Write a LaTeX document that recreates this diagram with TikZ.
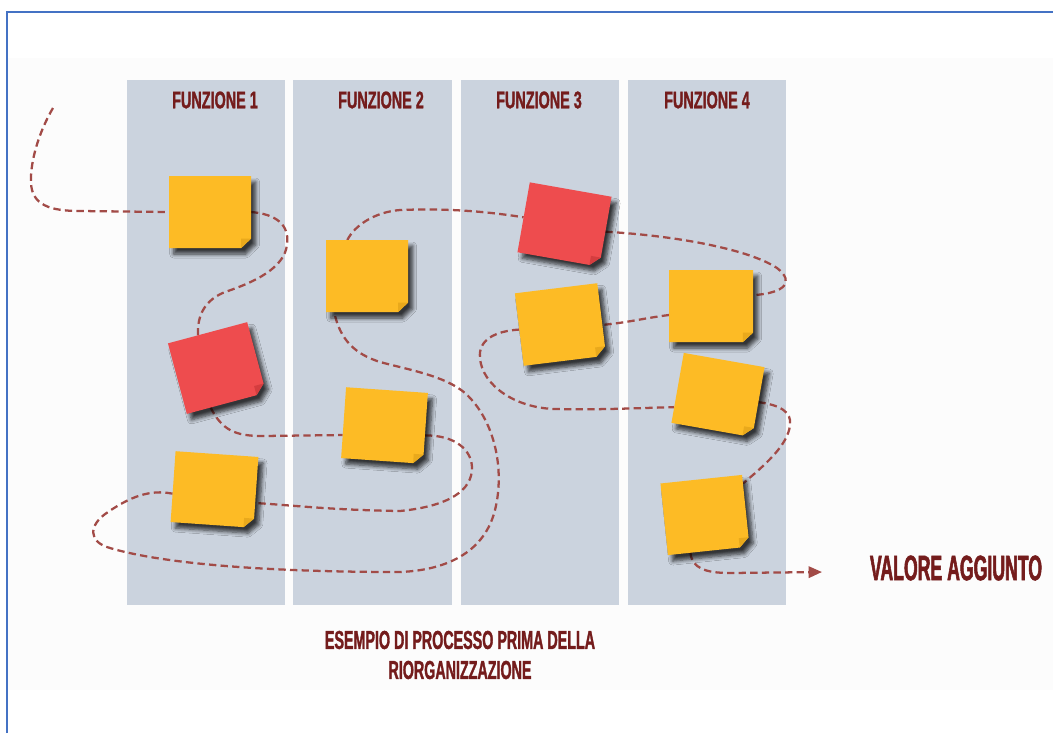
\documentclass[tikz,border=0pt]{standalone}
\usepackage{fontspec}
\newfontfamily\fhead{Liberation Sans}[FakeStretch=0.6,FakeBold=1.2]
\newfontfamily\fcap{Liberation Sans}[FakeStretch=0.55,FakeBold=1.2]
\newfontfamily\fval{Liberation Sans}[FakeStretch=0.5,FakeBold=1.5]
\usetikzlibrary{calc,arrows.meta,shadows.blur}
\definecolor{colfill}{HTML}{CBD3DE}
\definecolor{noteY}{HTML}{FDBB25}
\definecolor{noteYfold}{HTML}{E9A91C}
\definecolor{noteR}{HTML}{EE4C4E}
\definecolor{noteRfold}{HTML}{D43D3F}
\definecolor{flowcol}{HTML}{A24B47}
\definecolor{txtred}{HTML}{741C1C}
\definecolor{framecol}{HTML}{4472C4}
\tikzset{
  notebox/.style={rectangle, inner sep=0pt, outer sep=0pt},
  flow/.style={draw=flowcol, line width=1.7pt, dash pattern=on 5.5pt off 3.2pt},
  head/.style={font=\fhead\bfseries\fontsize{18}{20}\selectfont, text=txtred, inner sep=0pt},
  capt/.style={font=\fcap\bfseries\fontsize{19.5}{22.5}\selectfont, text=txtred, inner sep=0pt, align=center},
  valt/.style={font=\fval\bfseries\fontsize{26.5}{30}\selectfont, text=txtred, inner sep=0pt},
  colbox/.style={fill=colfill}
}
\newcommand\placenote[6]{%
  \node[notebox, minimum width={#4*0.75pt}, minimum height={#5*0.75pt}, rotate=#6] (#1) at (#2,-#3) {};}
\newcommand\drawnote[2]{%
  \coordinate (#1-a) at ($(#1.south east)!0.13!(#1.north east)$);
  \coordinate (#1-b) at ($(#1.south east)!0.12!(#1.south west)$);
  \coordinate (#1-c) at ($(#1-a)+(#1-b)-(#1.south east)$);
  \fill[#2, blur shadow={shadow xshift=3.5pt, shadow yshift=-4.5pt, shadow blur radius=3pt, shadow opacity=75, shadow blur steps=6}]
    (#1.north west) -- (#1.north east) -- (#1-a) -- (#1-b) -- (#1.south west) -- cycle;
  \fill[#2fold] (#1-a) -- (#1-b) -- (#1-c) -- cycle;}
\begin{document}
\begin{tikzpicture}[x=0.75pt,y=0.75pt]
\useasboundingbox (0,0) rectangle (1053,-733);
\fill[white] (0,0) rectangle (1053,-733);
% faint background panel
\fill[black!1.2] (8,-58) rectangle (1053,-690);
% frame
\draw[framecol, line width=1.6pt] (7,-733) -- (7,-12) -- (1053,-12);
% columns
\fill[colbox] (127,-80) rectangle (285,-605);
\fill[colbox] (293,-80) rectangle (452,-605);
\fill[colbox] (461,-80) rectangle (619,-605);
\fill[colbox] (628,-80) rectangle (786,-605);
% headers
\node[head] (h1) at (215,-100) {FUNZIONE 1};
\node[head] (h2) at (381,-100) {FUNZIONE 2};
\node[head] (h3) at (539,-100) {FUNZIONE 3};
\node[head] (h4) at (707,-100) {FUNZIONE 4};
% note nodes
\placenote{n1}{210}{212}{82}{72}{0}
\placenote{n2}{217}{368}{82}{73}{15}
\placenote{n3}{214.5}{489.5}{83}{71}{-4}
\placenote{n4}{367}{276}{82}{72}{0}
\placenote{n5}{384.5}{425.5}{82}{71}{-4}
\placenote{n6}{564.5}{224.5}{83}{71}{-10}
\placenote{n7}{560.5}{324.5}{83}{73}{7}
\placenote{n8}{711}{306}{84}{72}{0}
\placenote{n9}{718}{395}{82}{71}{-10}
\placenote{n10}{705}{515}{82}{72}{6}
% connection points
\coordinate (start) at (53,-108);
\coordinate (n2-in) at ($(n2.north west)!0.38!(n2.north east)$);
\coordinate (n2-out) at ($(n2.south west)!0.3!(n2.south east)$);
\coordinate (n5-in) at ($(n5.west)!0.35!(n5.south west)$);
\coordinate (n5-out) at ($(n5.east)!0.2!(n5.south east)$);
\coordinate (n3-in) at ($(n3.east)!0.3!(n3.south east)$);
\coordinate (n3-out) at ($(n3.west)!0.2!(n3.south west)$);
\coordinate (n4-in) at ($(n4.south west)!0.1!(n4.south east)$);
\coordinate (n4-out) at ($(n4.north west)!0.26!(n4.north east)$);
\coordinate (n8-in) at ($(n8.east)!0.3!(n8.north east)$);
\coordinate (n8-out) at ($(n8.west)!0.25!(n8.south west)$);
\coordinate (n7-in) at ($(n7.east)!0.15!(n7.south east)$);
\coordinate (n9-in) at ($(n9.west)!0.55!(n9.south west)$);
\coordinate (n10-in) at ($(n10.north east)!0.12!(n10.south east)$);
\coordinate (n10-out) at ($(n10.south west)!0.55!(n10.south)$);
\coordinate (vend) at (822,-572);
% flow
\draw[flow] (start) .. controls (40,-130) and (30,-160) .. (31,-183) .. controls (32,-205) and (50,-211) .. (80,-211) -- (n1.west);
\draw[flow] (n1.east) .. controls (275,-214) and (290,-224) .. (287,-245) .. controls (284,-268) and (255,-282) .. (225,-292) .. controls (205,-300) and (197,-315) .. (n2-in);
\draw[flow] (n2-out) .. controls (222,-430) and (235,-436) .. (262,-436) -- (n5-in);
\draw[flow] (n5-out) .. controls (455,-435) and (472,-450) .. (472,-468) .. controls (472,-490) and (450,-506) .. (400,-511) .. controls (330,-510) and (290,-505) .. (n3-in);
\draw[flow] (n3-out) .. controls (150,-489) and (130,-497) .. (108,-512) .. controls (88,-525) and (88,-542) .. (110,-548) .. controls (160,-563) and (260,-572) .. (400,-572) .. controls (450,-570) and (485,-550) .. (495,-510) .. controls (505,-470) and (495,-420) .. (465,-393) .. controls (445,-376) and (410,-370) .. (380,-362) .. controls (355,-354) and (340,-340) .. (n4-in);
\draw[flow] (n4-out) .. controls (355,-225) and (375,-212) .. (400,-210) .. controls (450,-208) and (490,-212) .. (n6.west);
\draw[flow] (n6.east) .. controls (680,-236) and (750,-250) .. (777,-268) .. controls (795,-282) and (785,-293) .. (n8-in);
\draw[flow] (n8-out) .. controls (645,-318) and (625,-323) .. (n7-in);
\draw[flow] (n7.west) .. controls (495,-331) and (478,-340) .. (480,-358) .. controls (482,-385) and (515,-408) .. (555,-409) .. controls (600,-410) and (640,-408) .. (n9-in);
\draw[flow] (n9.east) .. controls (780,-405) and (792,-412) .. (790,-425) .. controls (788,-445) and (765,-465) .. (n10-in);
\draw[flow, -{Triangle[length=10pt,width=8.5pt]}] (n10-out) .. controls (692,-568) and (705,-573) .. (730,-573) -- (vend);
% notes
\drawnote{n1}{noteY}
\drawnote{n2}{noteR}
\drawnote{n3}{noteY}
\drawnote{n4}{noteY}
\drawnote{n5}{noteY}
\drawnote{n6}{noteR}
\drawnote{n7}{noteY}
\drawnote{n8}{noteY}
\drawnote{n9}{noteY}
\drawnote{n10}{noteY}
% texts
\node[valt] (val) at (956,-568) {VALORE AGGIUNTO};
\node[capt] (cap) at (460,-655) {ESEMPIO DI PROCESSO PRIMA DELLA\\RIORGANIZZAZIONE};
\end{tikzpicture}
\end{document}
